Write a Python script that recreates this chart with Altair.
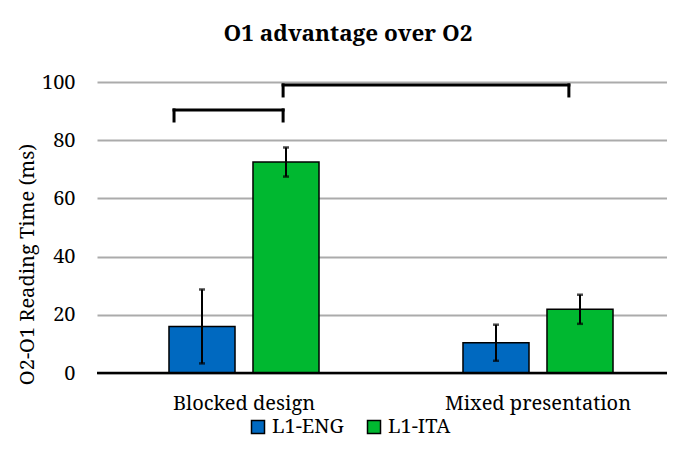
import altair as alt
import pandas as pd

# ---- data ----
conditions = ["Blocked design", "Blocked design", "Mixed presentation", "Mixed presentation"]
groups = ["L1-ENG", "L1-ITA", "L1-ENG", "L1-ITA"]
means = [16.0, 72.5, 10.4, 21.9]
errors = [12.7, 5.0, 6.2, 5.0]

# significance brackets (x in category units: 0..2, y in ms)
bracket_left = [0.262, 0.633]
bracket_right = [0.633, 1.605]
bracket_top = [90.4, 99.0]
bracket_bottom = [86.6, 95.2]

group_order = ["L1-ENG", "L1-ITA"]
group_colors = ["#0069C0", "#00B830"]
cat_order = ["Blocked design", "Mixed presentation"]

FONT = "Noto Serif"
FS = 20

df = pd.DataFrame({"condition": conditions, "group": groups, "mean": means, "err": errors})
df["lo"] = df["mean"] - df["err"]
df["hi"] = df["mean"] + df["err"]

segs = []
for l, r, t, b in zip(bracket_left, bracket_right, bracket_top, bracket_bottom):
    segs.append({"x": l, "x2": r, "y": t, "y2": t})
    segs.append({"x": l, "x2": l, "y": t, "y2": b})
    segs.append({"x": r, "x2": r, "y": t, "y2": b})
seg_df = pd.DataFrame(segs)

W, H = 570, 291

xscale = alt.Scale(domain=cat_order, range=[0, 588], paddingInner=0, paddingOuter=0)
xoff_scale = alt.Scale(domain=group_order, paddingInner=0.214, paddingOuter=0.857)
yscale = alt.Scale(domain=[0, 100], nice=False)

x_enc = alt.X("condition:N", scale=xscale, sort=cat_order,
              axis=alt.Axis(title=None, labelAngle=0, domain=False, ticks=False,
                            labelFontSize=FS, labelFont=FONT, labelColor="black",
                            labelPadding=20, labelLimit=400))
xo_enc = alt.XOffset("group:N", scale=xoff_scale, sort=group_order)

bars = alt.Chart(df).mark_bar(stroke="black", strokeWidth=1.5).encode(
    x=x_enc,
    xOffset=xo_enc,
    y=alt.Y("mean:Q", scale=yscale,
            axis=alt.Axis(title="O2-O1 Reading Time (ms)", values=[0, 20, 40, 60, 80, 100],
                          domain=False, ticks=False, gridColor="#ababab", gridWidth=2,
                          labelFontSize=FS, labelFont=FONT, labelColor="black",
                          labelPadding=22, titleFontSize=FS, titleFont=FONT,
                          titleFontWeight="normal", titleColor="black",
                          titleX=-70, titleY=182, titleBaseline="middle", titleAlign="center")),
    color=alt.Color("group:N", scale=alt.Scale(domain=group_order, range=group_colors),
                    legend=alt.Legend(title=None, orient="none", direction="horizontal",
                                      legendX=151, legendY=335, symbolType="square",
                                      symbolSize=169, symbolStrokeColor="black",
                                      symbolStrokeWidth=1.5, symbolOpacity=1,
                                      labelFontSize=FS, labelFont=FONT, labelColor="black",
                                      columnPadding=20, labelOffset=4)),
)

err_rule = alt.Chart(df).mark_rule(color="black", strokeWidth=2).encode(
    x=alt.X("condition:N", scale=xscale, sort=cat_order),
    xOffset=xo_enc,
    y=alt.Y("lo:Q", scale=yscale),
    y2="hi:Q",
)
cap_lo = alt.Chart(df).mark_tick(color="black", thickness=2.5, size=6).encode(
    x=alt.X("condition:N", scale=xscale, sort=cat_order),
    xOffset=xo_enc,
    y=alt.Y("lo:Q", scale=yscale),
)
cap_hi = alt.Chart(df).mark_tick(color="black", thickness=2.5, size=6).encode(
    x=alt.X("condition:N", scale=xscale, sort=cat_order),
    xOffset=xo_enc,
    y=alt.Y("hi:Q", scale=yscale),
)

zero = alt.Chart(pd.DataFrame({"v": [0]})).mark_rule(color="black", strokeWidth=2.5).encode(
    y=alt.Y("v:Q", scale=yscale),
)

main = alt.layer(bars, err_rule, cap_lo, cap_hi, zero)

brackets = alt.Chart(seg_df).mark_rule(color="black", strokeWidth=3, strokeCap="square").encode(
    x=alt.X("x:Q", scale=alt.Scale(domain=[0, 2], range=[0, 588], nice=False, zero=False), axis=None),
    x2="x2:Q",
    y=alt.Y("y:Q", scale=yscale),
    y2="y2:Q",
)

chart = alt.layer(main, brackets).resolve_scale(x="independent").properties(
    width=W, height=H,
    autosize=alt.AutoSizeParams(type="none"),
    padding={"left": 89, "top": 74, "right": 0, "bottom": 69},
    title=alt.TitleParams("O1 advantage over O2", font=FONT, fontSize=22.5, fontWeight="bold",
                          color="black", anchor="middle", baseline="alphabetic",
                          offset=9, dx=-34),
).configure(background="white", font=FONT
).configure_view(stroke=None
).configure_axis(labelFont=FONT, titleFont=FONT
).configure_legend(labelFont=FONT
).configure_title(font=FONT)

chart.save("out.html", embed_options={"renderer": "svg", "actions": False})
